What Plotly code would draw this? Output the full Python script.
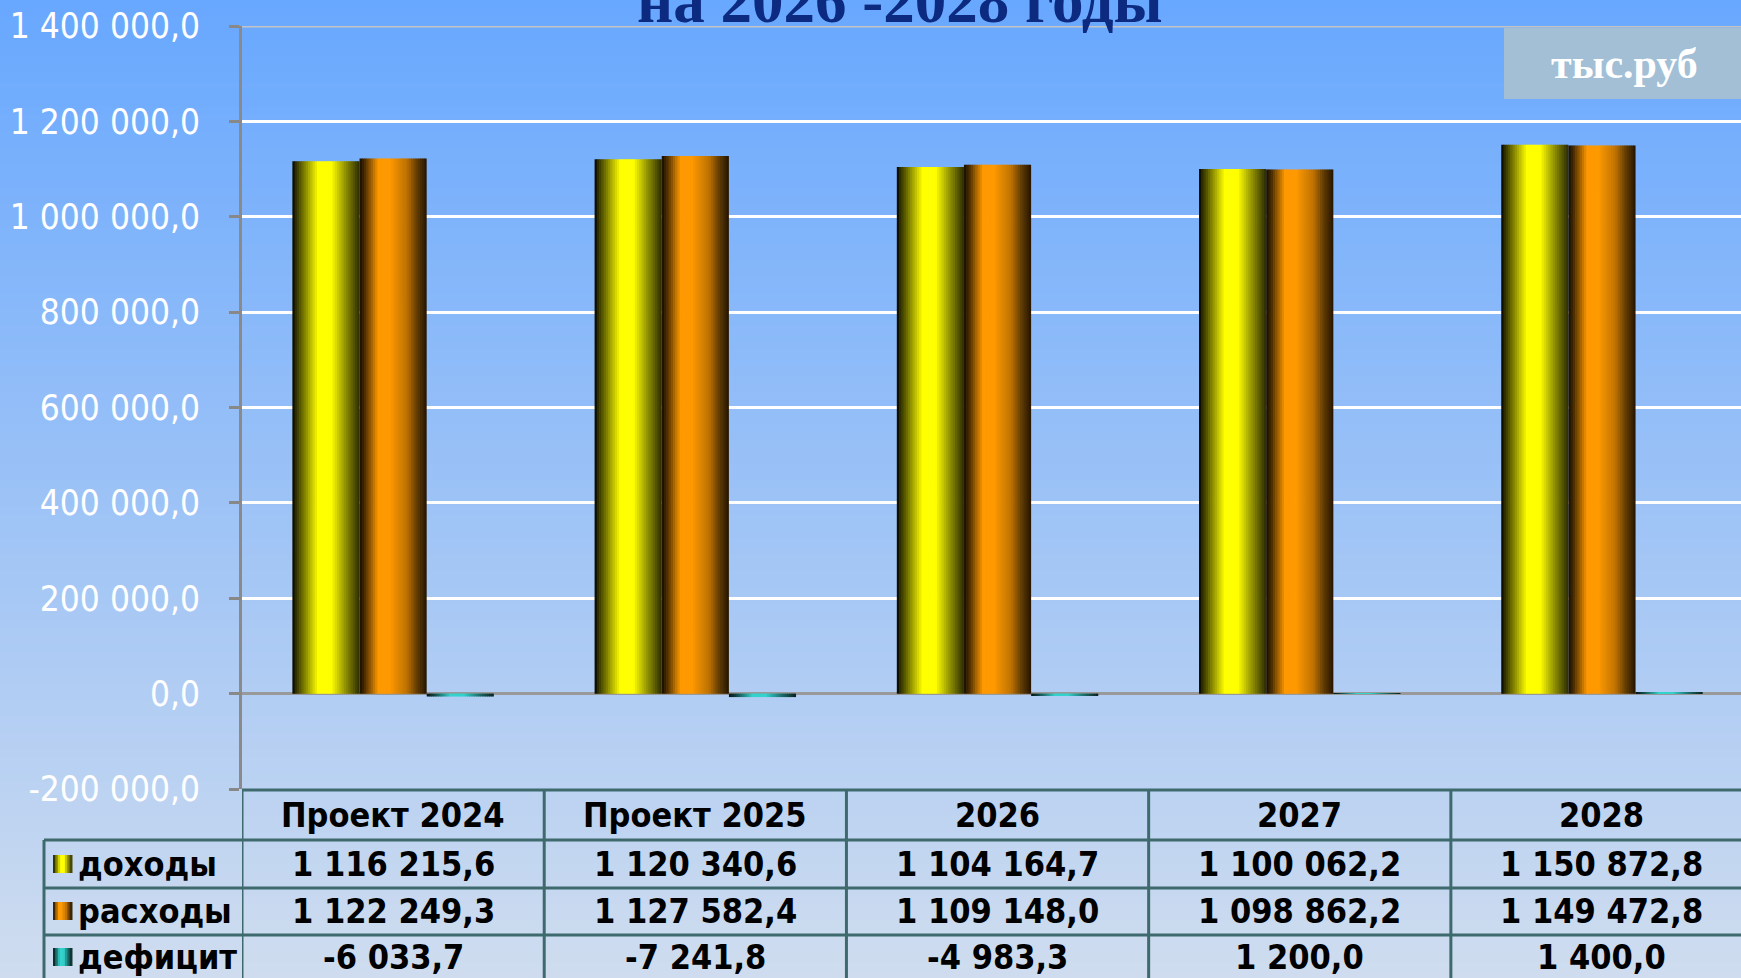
import plotly.graph_objects as go

categories = ["Проект 2024", "Проект 2025", "2026", "2027", "2028"]
income = [1116215.6, 1120340.6, 1104164.7, 1100062.2, 1150872.8]
expenses = [1122249.3, 1127582.4, 1109148.0, 1098862.2, 1149472.8]
deficit = [-6033.7, -7241.8, -4983.3, 1200.0, 1400.0]
series_names = ["доходы", "расходы", "дефицит"]
y_ticks = [-200000, 0, 200000, 400000, 600000, 800000, 1000000, 1200000, 1400000]
title_text = "на 2026 -2028 годы"
unit_text = "тыс.руб"

W, H = 1741, 978
L, R, T, B = 242, 1741, 26, 789  # plot area in pixels
FONT = "DejaVu Sans Condensed, DejaVu Sans, sans-serif"


def px(x):
    return (x - L) / (R - L)


def py(y):
    return (B - y) / (B - T)


def fmt(v):
    s = f"{abs(v):,.1f}".replace(",", " ").replace(".", ",")
    return ("-" if v < 0 else "") + s


def interp(stops, t):
    for (t0, v0), (t1, v1) in zip(stops, stops[1:]):
        if t0 <= t <= t1:
            return v0 + (v1 - v0) * (t - t0) / (t1 - t0)
    return stops[-1][1]


def shade(base, stops, t):
    k = interp(stops, t)
    return "rgb(%d,%d,%d)" % tuple(min(255, int(c * k)) for c in base)


# cylinder-like shading profiles (left -> right)
profiles = [
    ((255, 255, 0), [(0, 0.0), (0.05, 0.18), (0.2, 0.55), (0.38, 1.0), (0.58, 1.0), (0.8, 0.55), (1.0, 0.17)]),
    ((255, 153, 0), [(0, 0.08), (0.08, 0.3), (0.28, 1.0), (0.45, 1.0), (0.7, 0.75), (0.86, 0.38), (1.0, 0.14)]),
    ((51, 210, 205), [(0, 0.1), (0.1, 0.3), (0.35, 1.0), (0.55, 1.0), (0.8, 0.5), (1.0, 0.15)]),
]

fig = go.Figure()

bar_w = 2 / 9
offsets = [-1 / 3, -1 / 9, 1 / 9]
n_strips = 30
for values, off, (base, stops) in zip([income, expenses, deficit], offsets, profiles):
    for i in range(n_strips):
        t = (i + 0.5) / n_strips
        fig.add_trace(
            go.Bar(
                x=categories,
                y=values,
                offset=off + i * bar_w / n_strips,
                width=bar_w / n_strips * (1.0 if i == n_strips - 1 else 1.3),
                marker=dict(color=shade(base, stops, t), line=dict(width=0)),
                showlegend=False,
                hoverinfo="skip",
            )
        )

shapes = []

# page background gradient
top_c, bot_c = (104, 168, 255), (208, 221, 239)
n_bg = 120
for i in range(n_bg):
    y0 = i * H / n_bg
    y1 = (i + 1) * H / n_bg + 1
    f = (i + 0.5) / n_bg
    col = "rgb(%d,%d,%d)" % tuple(int(a + (b - a) * f) for a, b in zip(top_c, bot_c))
    shapes.append(dict(type="rect", xref="paper", yref="paper", x0=px(-5), x1=px(W + 5),
                       y0=py(y1), y1=py(y0), fillcolor=col, line=dict(width=0), layer="below"))

# top border of plot area
shapes.append(dict(type="line", xref="paper", yref="y", x0=0, x1=1, y0=1400000, y1=1400000,
                   line=dict(color="#c4c4c4", width=3)))

# unit box
shapes.append(dict(type="rect", xref="paper", yref="paper", x0=px(1504), x1=px(W + 5),
                   y0=py(99), y1=py(28), fillcolor="#a2bfd6", line=dict(width=0), layer="above"))

# data table grid
tcol = "#3e6a6e"
tw = 3
shapes.append(dict(type="line", xref="x", yref="paper", x0=-0.5, x1=4.6,
                   y0=py(790), y1=py(790), line=dict(color=tcol, width=tw)))
for yy in [840, 888, 935]:
    shapes.append(dict(type="line", xref="paper", yref="paper", x0=px(44), x1=px(W + 5),
                       y0=py(yy), y1=py(yy), line=dict(color=tcol, width=tw)))
for k in range(len(categories)):
    shapes.append(dict(type="line", xref="x", yref="paper", x0=k - 0.5, x1=k - 0.5,
                       y0=py(790), y1=py(H + 10), line=dict(color=tcol, width=tw)))
shapes.append(dict(type="line", xref="paper", yref="paper", x0=px(44), x1=px(44),
                   y0=py(840), y1=py(H + 10), line=dict(color=tcol, width=tw)))

# legend keys in the table
row_centers = [864, 911, 957]
for (base, stops), yc in zip(profiles, row_centers):
    n_k = 8
    for i in range(n_k):
        x0 = 53 + i * 19 / n_k
        shapes.append(dict(type="rect", xref="paper", yref="paper", x0=px(x0), x1=px(x0 + 19 / n_k + 0.5),
                           y0=py(yc + 9), y1=py(yc - 9), fillcolor=shade(base, stops, (i + 0.5) / n_k),
                           line=dict(width=0), layer="above"))

annotations = []
annotations.append(dict(xref="paper", yref="paper", x=px(900), y=py(38), xanchor="center", yanchor="bottom",
                        text="<b>" + title_text + "</b>", showarrow=False,
                        font=dict(family="Liberation Serif, serif", size=63, color="#0c2a80")))
annotations.append(dict(xref="paper", yref="paper", x=px(1624), y=py(64), xanchor="center", yanchor="middle",
                        text="<b>" + unit_text + "</b>", showarrow=False,
                        font=dict(family="Liberation Serif, serif", size=42, color="white")))

cell_font = dict(family=FONT, size=34, color="black", weight="bold")
for k, c in enumerate(categories):
    annotations.append(dict(xref="x", yref="paper", x=k, y=py(815), text=c, showarrow=False,
                            xanchor="center", yanchor="middle", font=cell_font))
for name, values, yc in zip(series_names, [income, expenses, deficit], row_centers):
    annotations.append(dict(xref="paper", yref="paper", x=px(76), y=py(yc), text=name, showarrow=False,
                            xanchor="left", yanchor="middle", font=cell_font))
    for k, v in enumerate(values):
        annotations.append(dict(xref="x", yref="paper", x=k, y=py(yc), text=fmt(v), showarrow=False,
                                xanchor="center", yanchor="middle", font=cell_font))

fig.update_layout(
    width=W,
    height=H,
    margin=dict(l=L, r=W - R, t=T, b=H - B, pad=0),
    barmode="overlay",
    paper_bgcolor="#a8c8f4",
    plot_bgcolor="rgba(0,0,0,0)",
    showlegend=False,
    shapes=shapes,
    annotations=annotations,
    xaxis=dict(
        type="category",
        categoryorder="array",
        categoryarray=categories,
        range=[-0.5, 4.46],
        showticklabels=False,
        showgrid=False,
        zeroline=False,
        showline=False,
        ticks="",
        fixedrange=True,
    ),
    yaxis=dict(
        range=[-200000, 1400000],
        tickvals=y_ticks,
        ticktext=[fmt(v) for v in y_ticks],
        tickfont=dict(family=FONT, size=35, color="white"),
        ticks="outside",
        ticklen=10,
        tickwidth=3,
        tickcolor="#888888",
        ticklabelstandoff=22,
        showline=True,
        linecolor="#8a8a8a",
        linewidth=3,
        showgrid=True,
        gridcolor="white",
        gridwidth=3,
        zeroline=True,
        zerolinecolor="#999999",
        zerolinewidth=3,
        fixedrange=True,
    ),
)

fig.write_html(
    "out.html",
    config={"displayModeBar": False},
    post_script="document.body.style.margin='0';document.body.style.overflow='hidden';",
)
